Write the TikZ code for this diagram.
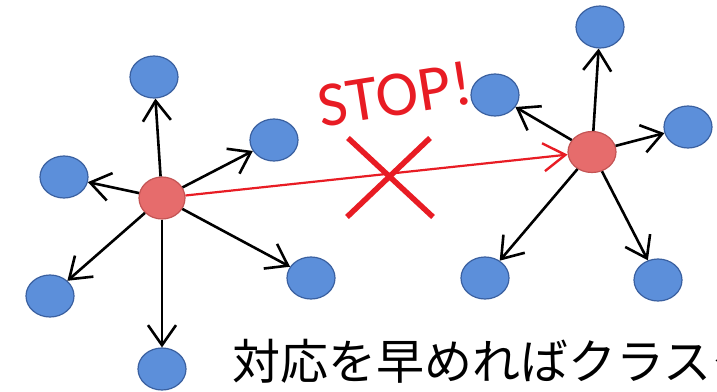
\documentclass[tikz,border=0pt]{standalone}
\usepackage{fontspec}
\newfontfamily\cjk{Noto Sans CJK JP}
\newfontfamily\stopfont{Carlito}
\usetikzlibrary{arrows.meta,shapes.geometric}
\definecolor{leaffill}{RGB}{92,143,218}
\definecolor{leafedge}{RGB}{58,96,160}
\definecolor{hubfill}{RGB}{230,108,108}
\definecolor{hubedge}{RGB}{196,84,84}
\definecolor{stopred}{RGB}{232,28,36}
\begin{document}
\begin{tikzpicture}[x=1pt,y=-1pt,
  leaf/.style={ellipse, draw=leafedge, line width=1.2pt, fill=leaffill, minimum width=48pt, minimum height=42pt, inner sep=0pt},
  hub/.style={ellipse, draw=hubedge, line width=1.2pt, fill=hubfill, minimum width=46pt, minimum height=42pt, inner sep=0pt},
  link/.style={draw=black, line width=2.6pt, -{Straight Barb[length=20pt,width=28pt,line width=2.6pt]}},
  redlink/.style={draw=stopred, line width=2.2pt, -{Straight Barb[length=22pt,width=28pt,line width=2.4pt]}},
  cross/.style={draw=stopred, line width=5.5pt}]
\useasboundingbox (0,0) rectangle (717,391);
\fill[white] (0,0) rectangle (717,391);
\begin{scope}
\clip (0,0) rectangle (717,391);
% left cluster
\node[hub] (L) at (162,198) {};
\node[leaf] (L1) at (154,77) {};
\node[leaf] (L2) at (274,140) {};
\node[leaf] (L3) at (64,177) {};
\node[leaf] (L4) at (50,296) {};
\node[leaf] (L5) at (162,369) {};
\node[leaf] (L6) at (311,278) {};
% right cluster
\node[hub, minimum width=48pt, minimum height=41pt] (R) at (592,152) {};
\node[leaf] (R1) at (600,27) {};
\node[leaf] (R2) at (495,95) {};
\node[leaf] (R3) at (688,127) {};
\node[leaf] (R4) at (485,278) {};
\node[leaf] (R5) at (658,280) {};
% arrows
\foreach \t in {L1,L2,L3,L4,L5,L6} \draw[link] (L) -- (\t);
\foreach \t in {R1,R2,R3,R4,R5} \draw[link] (R) -- (\t);
\draw[redlink] (L) -- (R);
% cross
\coordinate (xa) at (348,138);
\coordinate (xb) at (433,217);
\coordinate (xc) at (430,138);
\coordinate (xd) at (347,217);
\draw[cross] (xa) -- (xb);
\draw[cross] (xc) -- (xd);
% STOP!
\node[text=stopred, font=\stopfont\fontsize{64pt}{64pt}\selectfont, rotate=9, inner sep=0pt] (stop) at (395,94) {STOP!};
% caption
\node[font=\cjk\fontsize{48pt}{52pt}\selectfont, anchor=base west, inner sep=0pt] (cap) at (232,379) {対応を早めればクラスター};
\end{scope}
\end{tikzpicture}
\end{document}
